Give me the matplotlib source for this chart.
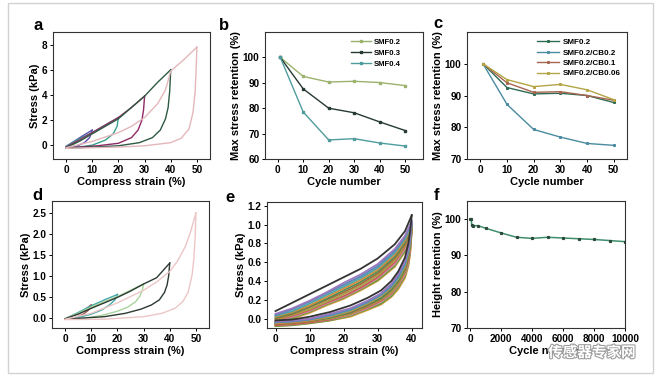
import matplotlib
matplotlib.use("Agg")
import matplotlib.pyplot as plt
import matplotlib.patheffects as pe
from matplotlib.patches import Rectangle

plt.rcParams['font.family'] = ['Liberation Sans', 'DejaVu Sans']
plt.rcParams['font.weight'] = 'bold'
plt.rcParams['axes.labelweight'] = 'bold'

# ---- panel a: hysteresis loops at different max strain (kPa) ----
a_colors = ['#5a4fb0', '#3aa08c', '#8e2a66', '#2f5a44', '#e3b7bb']
a_load_x = [[0, 3, 6, 8, 10], [0, 5, 10, 15, 20], [0, 5, 10, 15, 20, 25, 30],
            [0, 5, 10, 15, 20, 25, 30, 35, 40], [0, 10, 20, 25, 30, 35, 38, 40, 45, 50]]
a_load_y = [[-0.1, 0.3, 0.7, 0.95, 1.2], [-0.1, 0.5, 1.0, 1.6, 2.2],
            [-0.15, 0.4, 1.0, 1.6, 2.2, 3.0, 3.9],
            [-0.2, 0.3, 0.9, 1.5, 2.1, 3.0, 3.9, 5.0, 6.0],
            [-0.2, 0.3, 1.0, 1.5, 2.2, 3.3, 4.4, 5.9, 6.8, 7.8]]
a_unload_x = [[10, 9, 7, 4, 0], [20, 19.5, 18, 15, 10, 5, 0],
              [30, 29.6, 29, 27.5, 25, 20, 12, 5, 0],
              [40, 39.6, 39, 38, 36, 33, 28, 20, 10, 0],
              [50, 49.7, 49.3, 48.5, 47, 44, 40, 30, 20, 10, 0]]
a_unload_y = [[1.2, 0.6, 0.2, -0.1, -0.2], [2.2, 1.5, 0.9, 0.4, 0.0, -0.15, -0.2],
              [3.9, 2.8, 2.0, 1.2, 0.6, 0.15, -0.05, -0.15, -0.2],
              [6.0, 4.3, 3.0, 2.1, 1.2, 0.6, 0.2, -0.05, -0.15, -0.25],
              [7.8, 6.0, 4.2, 2.6, 1.3, 0.55, 0.2, -0.05, -0.15, -0.2, -0.25]]

# ---- panel b: max stress retention ----
cycles = [1, 10, 20, 30, 40, 50]
b_names = ['SMF0.2', 'SMF0.3', 'SMF0.4']
b_colors = ['#9bb26c', '#263a33', '#4f9c9c']
b_values = [[100, 92.5, 90.3, 90.6, 90.1, 88.9],
            [100, 87.6, 80.0, 78.2, 74.6, 71.2],
            [100, 78.5, 67.5, 68.0, 66.3, 65.1]]

# ---- panel c ----
c_names = ['SMF0.2', 'SMF0.2/CB0.2', 'SMF0.2/CB0.1', 'SMF0.2/CB0.06']
c_colors = ['#2f6b52', '#4a8ba0', '#a5654f', '#b4a443']
c_values = [[100, 92.5, 90.5, 90.7, 90.0, 87.8],
            [100, 87.2, 79.3, 76.9, 74.9, 74.3],
            [100, 94.0, 91.0, 91.2, 90.0, 88.5],
            [100, 95.0, 92.8, 93.5, 91.8, 88.7]]

# ---- panel d: hysteresis loops (kPa) ----
d_colors = ['#a0524e', '#45a8a8', '#a8d49c', '#2c3a31', '#ecc6c6']
d_load_x = [[0, 3, 6, 8, 10], [0, 5, 10, 15, 20], [0, 5, 10, 15, 20, 25, 30],
            [0, 5, 10, 15, 20, 25, 30, 35, 40], [0, 10, 20, 30, 35, 40, 43, 46, 48, 50]]
d_load_y = [[-0.03, 0.05, 0.13, 0.21, 0.3], [-0.03, 0.12, 0.28, 0.42, 0.55],
            [-0.03, 0.1, 0.25, 0.38, 0.5, 0.65, 0.8],
            [-0.03, 0.08, 0.22, 0.35, 0.48, 0.63, 0.8, 0.95, 1.3],
            [-0.04, 0.1, 0.35, 0.65, 0.85, 1.1, 1.35, 1.7, 2.05, 2.5]]
d_unload_x = [[10, 9, 7, 4, 0], [20, 19, 17, 14, 10, 5, 0],
              [30, 29.5, 28.5, 27, 24, 20, 14, 7, 0],
              [40, 39.6, 39, 38, 36, 33, 29, 23, 15, 0],
              [50, 49.7, 49.2, 48.5, 47, 45, 42, 37, 30, 15, 0]]
d_unload_y = [[0.3, 0.18, 0.08, 0.0, -0.03], [0.55, 0.42, 0.3, 0.18, 0.08, 0.0, -0.03],
              [0.8, 0.65, 0.5, 0.38, 0.25, 0.15, 0.05, -0.02, -0.04],
              [1.3, 1.0, 0.78, 0.6, 0.42, 0.3, 0.2, 0.1, 0.02, -0.04],
              [2.5, 1.9, 1.4, 1.0, 0.6, 0.38, 0.22, 0.1, 0.02, -0.04, -0.05]]

# ---- panel e: repeated loops at 40 % strain ----
e_load_x = [0, 5, 10, 15, 20, 25, 30, 35, 38, 40]
e_unload_x = [40, 39.5, 39, 38, 36, 34, 31, 27, 22, 16, 10, 5, 0]
e_colors = ['#333333', '#9a78c0', '#5a86b8', '#4fa6a6', '#d88a3a', '#4f8f55',
            '#a8683e', '#a6a444', '#c85a5a', '#d48aa8', '#6c9a40', '#e0a040']
e_load_y = [[0.08, 0.17, 0.26, 0.35, 0.44, 0.53, 0.64, 0.79, 0.93, 1.10],
            [0.05, 0.11, 0.19, 0.28, 0.38, 0.47, 0.58, 0.74, 0.88, 1.04],
            [0.04, 0.10, 0.18, 0.27, 0.36, 0.45, 0.56, 0.72, 0.87, 1.02],
            [0.03, 0.08, 0.16, 0.25, 0.34, 0.43, 0.54, 0.70, 0.85, 1.01],
            [0.02, 0.07, 0.14, 0.23, 0.32, 0.41, 0.52, 0.68, 0.83, 1.00],
            [0.01, 0.06, 0.13, 0.21, 0.30, 0.39, 0.50, 0.66, 0.81, 0.99],
            [0.00, 0.05, 0.12, 0.20, 0.28, 0.37, 0.48, 0.64, 0.79, 0.98],
            [-0.01, 0.04, 0.10, 0.18, 0.26, 0.35, 0.46, 0.62, 0.77, 0.97],
            [-0.02, 0.03, 0.09, 0.17, 0.24, 0.33, 0.44, 0.60, 0.76, 0.96],
            [-0.03, 0.02, 0.08, 0.16, 0.23, 0.32, 0.43, 0.58, 0.74, 0.95],
            [-0.04, 0.01, 0.07, 0.15, 0.22, 0.31, 0.41, 0.56, 0.72, 0.94],
            [-0.05, 0.00, 0.06, 0.14, 0.21, 0.30, 0.40, 0.55, 0.71, 0.93]]
e_unload_y = [[1.10, 0.92, 0.80, 0.65, 0.50, 0.40, 0.30, 0.22, 0.14, 0.07, 0.02, -0.01, -0.02],
              [1.04, 0.86, 0.75, 0.61, 0.47, 0.37, 0.27, 0.19, 0.11, 0.05, 0.00, -0.02, -0.03],
              [1.02, 0.84, 0.73, 0.59, 0.45, 0.35, 0.26, 0.18, 0.10, 0.04, -0.01, -0.03, -0.04],
              [1.01, 0.82, 0.71, 0.57, 0.43, 0.34, 0.25, 0.17, 0.09, 0.03, -0.01, -0.03, -0.04],
              [1.00, 0.80, 0.69, 0.55, 0.42, 0.33, 0.24, 0.16, 0.08, 0.02, -0.02, -0.04, -0.05],
              [0.99, 0.78, 0.67, 0.53, 0.40, 0.31, 0.22, 0.15, 0.07, 0.01, -0.02, -0.04, -0.05],
              [0.98, 0.77, 0.65, 0.52, 0.39, 0.30, 0.21, 0.14, 0.06, 0.01, -0.03, -0.05, -0.06],
              [0.97, 0.75, 0.64, 0.50, 0.37, 0.28, 0.20, 0.13, 0.05, 0.00, -0.03, -0.05, -0.06],
              [0.96, 0.74, 0.62, 0.49, 0.36, 0.27, 0.19, 0.12, 0.05, -0.01, -0.04, -0.06, -0.07],
              [0.95, 0.72, 0.60, 0.47, 0.35, 0.26, 0.18, 0.11, 0.04, -0.01, -0.04, -0.06, -0.07],
              [0.94, 0.70, 0.58, 0.45, 0.33, 0.24, 0.16, 0.10, 0.03, -0.02, -0.05, -0.07, -0.08],
              [0.93, 0.68, 0.56, 0.43, 0.31, 0.23, 0.15, 0.09, 0.02, -0.02, -0.05, -0.07, -0.08]]

# ---- panel f: height retention ----
f_cycles = [0, 80, 100, 200, 500, 1000, 2000, 3000, 4000, 5000, 6000, 7000, 8000, 9000, 10000]
f_values = [100, 100, 98.5, 98.2, 98.2, 97.5, 96.2, 95.0, 94.7, 95.0, 94.8, 94.6, 94.4, 94.1, 93.8]

W, H = 660, 377
fig = plt.figure(figsize=(6.6, 3.77), dpi=100)


def add_ax(x0, y0, w, h):
    return fig.add_axes([x0 / W, 1 - (y0 + h) / H, w / W, h / H])


def style(ax):
    ax.tick_params(direction='out', length=2.5, width=0.7, labelsize=7.2, pad=1.5)
    for s in ax.spines.values():
        s.set_linewidth(0.8)
        s.set_color('#333333')
    for t in ax.get_xticklabels() + ax.get_yticklabels():
        t.set_fontweight('bold')


xlab = dict(fontsize=8, fontweight='bold', labelpad=2)
ylab = dict(fontsize=8, fontweight='bold', labelpad=1)

# a
ax = add_ax(53, 32, 157, 127)
for i in range(len(a_colors)):
    ax.plot(a_load_x[i], a_load_y[i], color=a_colors[i], lw=1)
    ax.plot(a_unload_x[i], a_unload_y[i], color=a_colors[i], lw=1)
ax.set_xlim(-5, 55)
ax.set_ylim(-1.1, 9)
ax.set_xticks([0, 10, 20, 30, 40, 50])
ax.set_yticks([0, 2, 4, 6, 8])
ax.set_xlabel('Compress strain (%)', **xlab)
ax.set_ylabel('Stress (kPa)', **ylab)
style(ax)

# b
ax = add_ax(265, 32, 158, 127)
for name, col, vals in zip(b_names, b_colors, b_values):
    ax.plot(cycles, vals, color=col, lw=1, marker='s', ms=1.8, label=name)
ax.set_xlim(-5, 57)
ax.set_ylim(60, 110)
ax.set_xticks([0, 10, 20, 30, 40, 50])
ax.set_yticks([60, 70, 80, 90, 100])
ax.set_xlabel('Cycle number', **xlab)
ax.set_ylabel('Max stress retention (%)', **ylab)
ax.legend(loc='upper right', bbox_to_anchor=(0.9, 1.0), frameon=False,
          handlelength=2.6, handletextpad=0.4, labelspacing=0.45,
          borderaxespad=0.4, prop={'size': 5.6, 'weight': 'bold'})
style(ax)

# c
ax = add_ax(467, 32, 160, 127)
for name, col, vals in zip(c_names, c_colors, c_values):
    ax.plot(cycles, vals, color=col, lw=1, marker='s', ms=1.2, label=name)
ax.set_xlim(-5, 55)
ax.set_ylim(70, 110)
ax.set_xticks([0, 10, 20, 30, 40, 50])
ax.set_yticks([70, 80, 90, 100])
ax.set_xlabel('Cycle number', **xlab)
ax.set_ylabel('Max stress retention (%)', **ylab)
ax.legend(loc='upper right', frameon=False, handlelength=2.8,
          handletextpad=0.4, labelspacing=0.35, borderaxespad=0.4,
          prop={'size': 5.8, 'weight': 'bold'})
style(ax)

# d
ax = add_ax(52, 201, 157, 127)
for i in range(len(d_colors)):
    ax.plot(d_load_x[i], d_load_y[i], color=d_colors[i], lw=1)
    ax.plot(d_unload_x[i], d_unload_y[i], color=d_colors[i], lw=1)
ax.set_xlim(-5, 55)
ax.set_ylim(-0.25, 2.78)
ax.set_xticks([0, 10, 20, 30, 40, 50])
ax.set_yticks([0, 0.5, 1.0, 1.5, 2.0, 2.5])
ax.set_xlabel('Compress strain (%)', **xlab)
ax.set_ylabel('Stress (kPa)', **ylab)
style(ax)

# e
ax = add_ax(267, 202, 155, 126)
for i in range(len(e_colors) - 1, -1, -1):
    ax.plot(e_load_x, e_load_y[i], color=e_colors[i], lw=1.3)
    ax.plot(e_unload_x, e_unload_y[i], color=e_colors[i], lw=1.3)
ax.set_xlim(-2.5, 43)
ax.set_ylim(-0.1, 1.24)
ax.set_xticks([0, 10, 20, 30, 40])
ax.set_yticks([0.0, 0.2, 0.4, 0.6, 0.8, 1.0, 1.2])
ax.set_xlabel('Compress strain (%)', **xlab)
ax.set_ylabel('Stress (kPa)', **ylab)
style(ax)

# f
ax = add_ax(467, 201, 158, 127)
ax.plot(f_cycles, f_values, color='#3f8f6e', lw=1.1, marker='s', ms=1.3,
        mfc='#2c4a3c', mec='#2c4a3c')
ax.set_xlim(-200, 10000)
ax.set_ylim(70, 105)
ax.set_xticks([0, 2000, 4000, 6000, 8000, 10000])
ax.set_yticks([70, 80, 90, 100])
ax.set_xlabel('Cycle number', **xlab)
ax.set_ylabel('Height retention (%)', **ylab)
style(ax)

# panel letters
for txt, x, y in [('a', 33, 25), ('b', 219, 25), ('c', 433, 24),
                  ('d', 32, 196), ('e', 225, 197), ('f', 434, 195)]:
    fig.text(x / W, 1 - y / H, txt, fontsize=12, fontweight='bold', va='center')

# outer frame
fig.patches.append(Rectangle((8 / W, 1 - 373 / H), 645 / W, 370 / H,
                             transform=fig.transFigure, fill=False,
                             edgecolor='#d2d2d2', lw=1))

# watermark
fig.text(592 / W, 1 - 352 / H, '传感器专家网', fontsize=10.5,
         family=['Noto Sans CJK SC', 'DejaVu Sans'], color='white',
         ha='center', va='center',
         path_effects=[pe.withStroke(linewidth=1.5, foreground='#9a9a9a')])

fig.savefig('out.png', dpi=100)
